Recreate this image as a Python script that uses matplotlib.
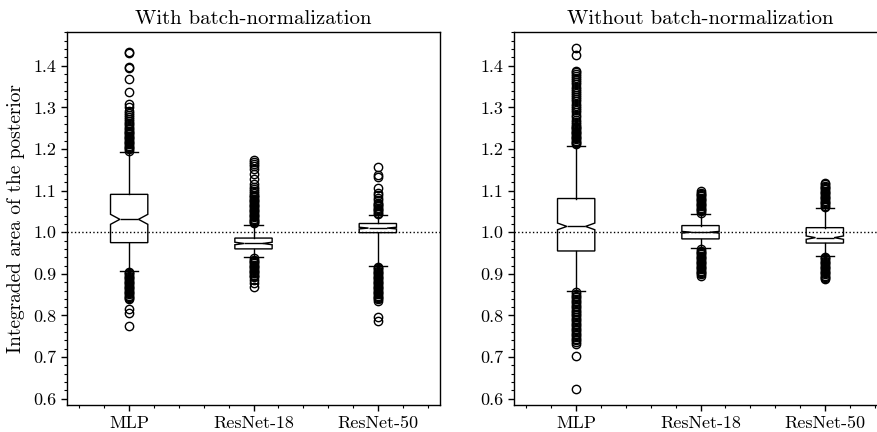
import matplotlib
matplotlib.use('Agg')
import matplotlib.pyplot as plt
from matplotlib.ticker import MultipleLocator, FormatStrFormatter

plt.rcParams.update({
    'font.family': 'serif',
    'font.serif': ['cmr10'],
    'mathtext.fontset': 'cm',
    'axes.formatter.use_mathtext': True,
})

categories = ['MLP', 'ResNet-18', 'ResNet-50']
titles = ['With batch-normalization', 'Without batch-normalization']
ylabel = 'Integraded area of the posterior'

# ---- With batch-normalization ----
bn_med = [1.031, 0.973, 1.010]
bn_q1 = [0.975, 0.960, 0.999]
bn_q3 = [1.091, 0.986, 1.021]
bn_whislo = [0.908, 0.940, 0.920]
bn_whishi = [1.193, 1.018, 1.041]
bn_cilo = [1.019, 0.970, 1.008]
bn_cihi = [1.043, 0.976, 1.012]
bn_fliers_mlp = [1.196, 1.199, 1.202, 1.205, 1.208, 1.211, 1.214, 1.217, 1.220, 1.223,
                 1.226, 1.229, 1.232, 1.235, 1.238, 1.241, 1.244, 1.247, 1.251, 1.255,
                 1.259, 1.263, 1.267, 1.271, 1.276, 1.281, 1.286, 1.291, 1.300, 1.309,
                 1.338, 1.369, 1.394, 1.398, 1.430, 1.433,
                 0.905, 0.902, 0.899, 0.896, 0.893, 0.890, 0.887, 0.884, 0.881, 0.878,
                 0.875, 0.872, 0.869, 0.866, 0.863, 0.860, 0.857, 0.854, 0.851, 0.848,
                 0.845, 0.842, 0.839, 0.815, 0.806, 0.774]
bn_fliers_r18 = [1.021, 1.024, 1.027, 1.030, 1.033, 1.036, 1.039, 1.042, 1.045, 1.048,
                 1.051, 1.054, 1.057, 1.060, 1.063, 1.066, 1.069, 1.072, 1.075, 1.078,
                 1.081, 1.084, 1.087, 1.090, 1.094, 1.098, 1.103, 1.109, 1.117, 1.127,
                 1.139, 1.151, 1.158, 1.163, 1.168, 1.173,
                 0.937, 0.934, 0.931, 0.928, 0.925, 0.922, 0.919, 0.916, 0.913, 0.910,
                 0.907, 0.904, 0.901, 0.898, 0.895, 0.892, 0.885, 0.879, 0.868]
bn_fliers_r50 = [1.044, 1.047, 1.050, 1.053, 1.056, 1.059, 1.062, 1.065, 1.068, 1.071,
                 1.077, 1.083, 1.089, 1.095, 1.106, 1.132, 1.137, 1.156,
                 0.917, 0.914, 0.911, 0.908, 0.905, 0.902, 0.899, 0.896, 0.893, 0.890,
                 0.887, 0.884, 0.881, 0.878, 0.875, 0.872, 0.869, 0.866, 0.863, 0.860,
                 0.857, 0.854, 0.851, 0.848, 0.845, 0.842, 0.839, 0.836, 0.797, 0.786]

# ---- Without batch-normalization ----
nobn_med = [1.014, 1.000, 0.987]
nobn_q1 = [0.955, 0.984, 0.974]
nobn_q3 = [1.081, 1.016, 1.011]
nobn_whislo = [0.859, 0.962, 0.944]
nobn_whishi = [1.208, 1.044, 1.058]
nobn_cilo = [1.006, 0.998, 0.983]
nobn_cihi = [1.022, 1.002, 0.991]
nobn_fliers_mlp = [1.211, 1.214, 1.217, 1.220, 1.223, 1.226, 1.229, 1.232, 1.235, 1.238,
                   1.241, 1.244, 1.247, 1.250, 1.253, 1.256, 1.259, 1.265, 1.270, 1.276,
                   1.282, 1.288, 1.293, 1.298, 1.303, 1.309, 1.315, 1.320, 1.325, 1.330,
                   1.335, 1.340, 1.345, 1.350, 1.356, 1.361, 1.366, 1.371, 1.376, 1.380,
                   1.384, 1.388, 1.425, 1.442,
                   0.856, 0.852, 0.848, 0.844, 0.840, 0.836, 0.832, 0.828, 0.824, 0.820,
                   0.816, 0.812, 0.808, 0.804, 0.800, 0.796, 0.792, 0.788, 0.784, 0.780,
                   0.776, 0.772, 0.768, 0.764, 0.760, 0.756, 0.752, 0.748, 0.744, 0.740,
                   0.736, 0.732, 0.702, 0.624]
nobn_fliers_r18 = [1.047, 1.050, 1.053, 1.056, 1.059, 1.062, 1.065, 1.068, 1.071, 1.074,
                   1.077, 1.080, 1.083, 1.086, 1.089, 1.092, 1.095, 1.098,
                   0.959, 0.956, 0.953, 0.950, 0.947, 0.944, 0.941, 0.938, 0.935, 0.932,
                   0.929, 0.926, 0.923, 0.920, 0.917, 0.914, 0.911, 0.908, 0.905, 0.902,
                   0.899, 0.896]
nobn_fliers_r50 = [1.061, 1.064, 1.067, 1.070, 1.073, 1.076, 1.079, 1.082, 1.085, 1.088,
                   1.091, 1.094, 1.097, 1.100, 1.103, 1.106, 1.109, 1.112, 1.115, 1.118,
                   0.941, 0.938, 0.935, 0.932, 0.929, 0.926, 0.923, 0.920, 0.917, 0.914,
                   0.911, 0.908, 0.905, 0.902, 0.899, 0.896, 0.893, 0.890, 0.888]

panels = [
    (bn_med, bn_q1, bn_q3, bn_whislo, bn_whishi, bn_cilo, bn_cihi,
     [bn_fliers_mlp, bn_fliers_r18, bn_fliers_r50]),
    (nobn_med, nobn_q1, nobn_q3, nobn_whislo, nobn_whishi, nobn_cilo, nobn_cihi,
     [nobn_fliers_mlp, nobn_fliers_r18, nobn_fliers_r50]),
]

W, H = 877, 432
fig = plt.figure(figsize=(W / 100, H / 100), dpi=100)
ax_left = fig.add_axes([67 / W, 1 - 405 / H, 373 / W, 373 / H])
ax_right = fig.add_axes([514 / W, 1 - 405 / H, 373 / W, 373 / H])

for ax, title, (med, q1, q3, wlo, whi, clo, chi, fl) in zip(
        [ax_left, ax_right], titles, panels):
    stats = []
    for i in range(3):
        stats.append(dict(med=med[i], q1=q1[i], q3=q3[i], whislo=wlo[i],
                          whishi=whi[i], cilo=clo[i], cihi=chi[i],
                          fliers=fl[i], label=categories[i]))
    ax.bxp(stats, positions=[1, 2, 3], widths=0.3, shownotches=True,
           patch_artist=True,
           boxprops=dict(facecolor='white', edgecolor='black', linewidth=1.0),
           medianprops=dict(color='black', linewidth=1.0),
           whiskerprops=dict(color='black', linewidth=1.0),
           capprops=dict(color='black', linewidth=1.0),
           flierprops=dict(marker='o', markerfacecolor='none',
                           markeredgecolor='black', markersize=6,
                           markeredgewidth=1.0))
    ax.axhline(1.0, color='black', linestyle=':', linewidth=1.0, zorder=5)
    ax.set_xlim(0.5, 3.5)
    ax.set_ylim(0.585, 1.481)
    ax.set_xticks([1, 2, 3])
    ax.set_xticklabels(categories, fontsize=13)
    ax.xaxis.set_minor_locator(MultipleLocator(0.2))
    ax.yaxis.set_major_locator(MultipleLocator(0.1))
    ax.yaxis.set_minor_locator(MultipleLocator(0.02))
    ax.yaxis.set_major_formatter(FormatStrFormatter('%.1f'))
    ax.tick_params(which='major', length=4, width=1, direction='out',
                   labelsize=13, top=False, right=False)
    ax.tick_params(which='minor', length=2.5, width=0.8, direction='out',
                   top=False, right=False)
    for s in ax.spines.values():
        s.set_linewidth(1.0)
    ax.set_title(title, fontsize=15, pad=6)

ax_left.set_ylabel(ylabel, fontsize=14, labelpad=6)

fig.savefig('out.png', dpi=100)
